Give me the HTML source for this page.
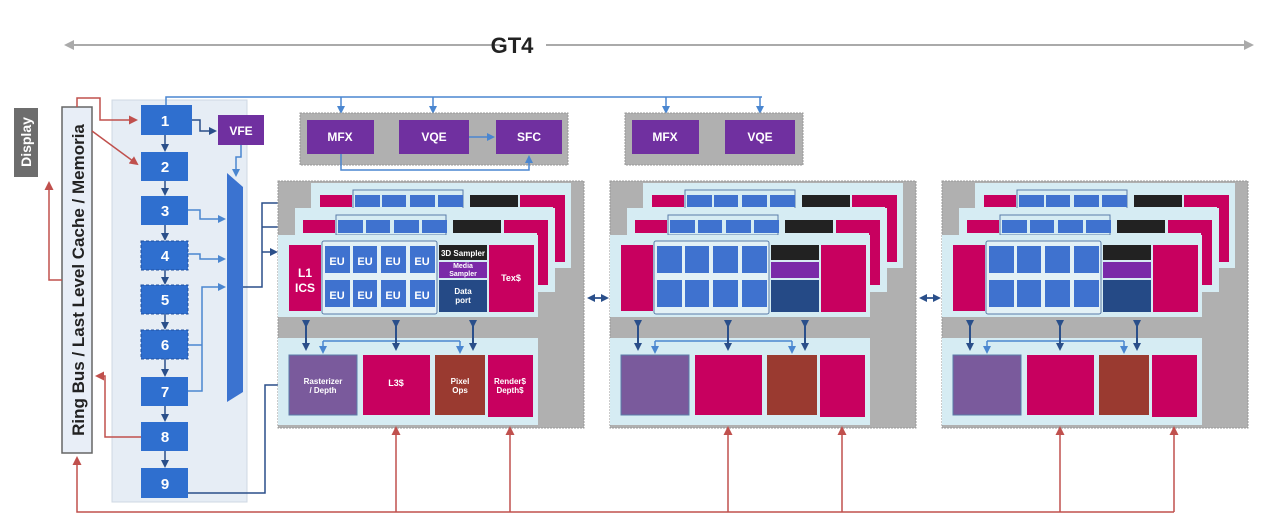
<!DOCTYPE html>
<html><head><meta charset="utf-8"><style>
html,body{margin:0;padding:0;background:#fff;}
svg{display:block;font-family:"Liberation Sans",sans-serif;}
</style></head><body>
<svg width="1280" height="530" viewBox="0 0 1280 530" xmlns="http://www.w3.org/2000/svg">
<defs>
<marker id="ab" markerWidth="8" markerHeight="8" refX="6" refY="4" orient="auto" markerUnits="userSpaceOnUse"><path d="M0,0 L8,4 L0,8 z" fill="#2a4f8a"/></marker>
<marker id="al" markerWidth="8" markerHeight="8" refX="6" refY="4" orient="auto" markerUnits="userSpaceOnUse"><path d="M0,0 L8,4 L0,8 z" fill="#4a86d0"/></marker>
<marker id="ar" markerWidth="9" markerHeight="9" refX="7" refY="4.5" orient="auto" markerUnits="userSpaceOnUse"><path d="M0,0 L9,4.5 L0,9 z" fill="#c0504d"/></marker>
<marker id="ag" markerWidth="10" markerHeight="10" refX="8" refY="5" orient="auto" markerUnits="userSpaceOnUse"><path d="M0,0 L10,5 L0,10 z" fill="#aaa"/></marker>
<g id="slice">
  <rect x="278" y="181" width="306" height="247" fill="#b0b0b0" stroke="#999" stroke-dasharray="2,1"/>
  <rect x="311" y="183" width="260" height="85" fill="#d6ecf3"/>
  <rect x="320" y="195" width="32" height="12" fill="#c8005f"/>
  <rect x="353" y="190" width="110" height="20" fill="none" stroke="#5a7ca8"/>
  <rect x="355" y="195" width="25" height="12" fill="#3f72cf"/><rect x="382" y="195" width="24" height="12" fill="#3f72cf"/><rect x="410" y="195" width="25" height="12" fill="#3f72cf"/><rect x="438" y="195" width="25" height="12" fill="#3f72cf"/>
  <rect x="470" y="195" width="48" height="12" fill="#222"/>
  <path d="M520,195 H565 V262 H553 V207 H520 Z" fill="#c8005f"/>
  <rect x="295" y="208" width="260" height="84" fill="#d6ecf3"/>
  <rect x="303" y="220" width="32" height="13" fill="#c8005f"/>
  <rect x="336" y="215" width="110" height="20" fill="none" stroke="#5a7ca8"/>
  <rect x="338" y="220" width="25" height="13" fill="#3f72cf"/><rect x="366" y="220" width="24" height="13" fill="#3f72cf"/><rect x="394" y="220" width="25" height="13" fill="#3f72cf"/><rect x="422" y="220" width="25" height="13" fill="#3f72cf"/>
  <rect x="453" y="220" width="48" height="13" fill="#222"/>
  <path d="M504,220 H548 V285 H537 V233 H504 Z" fill="#c8005f"/>
  <rect x="278" y="235" width="260" height="82" fill="#d6ecf3"/>
  <rect x="289" y="245" width="32" height="66" fill="#c8005f"/>
  <rect x="322" y="241" width="115" height="73" rx="2" fill="#e3f1f6" stroke="#5a7ca8"/>
  <rect x="325" y="246" width="25" height="27" fill="#3f72cf"/><rect x="353" y="246" width="24" height="27" fill="#3f72cf"/><rect x="381" y="246" width="25" height="27" fill="#3f72cf"/><rect x="410" y="246" width="25" height="27" fill="#3f72cf"/>
  <rect x="325" y="280" width="25" height="27" fill="#3f72cf"/><rect x="353" y="280" width="24" height="27" fill="#3f72cf"/><rect x="381" y="280" width="25" height="27" fill="#3f72cf"/><rect x="410" y="280" width="25" height="27" fill="#3f72cf"/>
  <rect x="439" y="245" width="48" height="15" fill="#222"/>
  <rect x="439" y="262" width="48" height="16" fill="#7a2aa8"/>
  <rect x="439" y="280" width="48" height="32" fill="#254a86"/>
  <rect x="489" y="245" width="45" height="67" fill="#c8005f"/>
  <rect x="278" y="338" width="260" height="87" fill="#d6ecf3"/>
  <rect x="289" y="355" width="68" height="60" fill="#7a5a9c" stroke="#5a7ca8"/>
  <rect x="363" y="355" width="67" height="60" fill="#c8005f"/>
  <rect x="435" y="355" width="50" height="60" fill="#9a3a30"/>
  <rect x="488" y="355" width="45" height="62" fill="#c8005f"/>
  <path d="M323,341 H460" stroke="#4a86d0" stroke-width="1.5" fill="none"/>
  <line x1="323" y1="341" x2="323" y2="352" stroke="#4a86d0" stroke-width="1.5" marker-end="url(#al)"/>
  <line x1="460" y1="341" x2="460" y2="352" stroke="#4a86d0" stroke-width="1.5" marker-end="url(#al)"/>
  <line x1="306" y1="326" x2="306" y2="349" stroke="#2a4f8a" stroke-width="2" marker-start="url(#ab)" marker-end="url(#ab)"/>
  <line x1="396" y1="326" x2="396" y2="349" stroke="#2a4f8a" stroke-width="2" marker-start="url(#ab)" marker-end="url(#ab)"/>
  <line x1="473" y1="326" x2="473" y2="349" stroke="#2a4f8a" stroke-width="2" marker-start="url(#ab)" marker-end="url(#ab)"/>
  <line x1="396" y1="512" x2="396" y2="428" stroke="#c0504d" stroke-width="1.5" marker-end="url(#ar)"/>
  <line x1="510" y1="512" x2="510" y2="428" stroke="#c0504d" stroke-width="1.5" marker-end="url(#ar)"/>
</g>
</defs>

<line x1="500" y1="45" x2="66" y2="45" stroke="#aaa" stroke-width="2" marker-end="url(#ag)"/>
<line x1="546" y1="45" x2="1252" y2="45" stroke="#aaa" stroke-width="2" marker-end="url(#ag)"/>
<text x="512" y="53" font-size="22" font-weight="bold" text-anchor="middle" fill="#222">GT4</text>

<rect x="14" y="108" width="24" height="69" fill="#6d6d6d"/>
<text transform="translate(31,142) rotate(-90)" font-size="14" font-weight="bold" fill="#fff" text-anchor="middle">Display</text>
<rect x="112" y="100" width="135" height="402" fill="#e6edf5" stroke="#cfd8e3"/>
<rect x="62" y="107" width="30" height="346" fill="#e8eef7" stroke="#666" stroke-width="1.5"/>
<text transform="translate(84,280) rotate(-90)" font-size="17" font-weight="bold" fill="#222" text-anchor="middle">Ring Bus / Last Level Cache / Memoria</text>

<path d="M62,280 H49 V183" stroke="#c0504d" stroke-width="1.5" fill="none" marker-end="url(#ar)"/>
<path d="M77,107 V98 H100 V120 H136" stroke="#c0504d" stroke-width="1.5" fill="none" marker-end="url(#ar)"/>
<line x1="92" y1="131" x2="137" y2="164" stroke="#c0504d" stroke-width="1.5" marker-end="url(#ar)"/>
<path d="M141,437 H105 V376 H97" stroke="#c0504d" stroke-width="1.5" fill="none" marker-end="url(#ar)"/>
<path d="M1174,512 H77 V458" stroke="#c0504d" stroke-width="1.5" fill="none" marker-end="url(#ar)"/>

<path d="M166,105 V97 H762" stroke="#4a86d0" stroke-width="1.5" fill="none"/>
<line x1="341" y1="97" x2="341" y2="112" stroke="#4a86d0" stroke-width="1.5" marker-end="url(#al)"/>
<line x1="433" y1="97" x2="433" y2="112" stroke="#4a86d0" stroke-width="1.5" marker-end="url(#al)"/>
<line x1="666" y1="97" x2="666" y2="112" stroke="#4a86d0" stroke-width="1.5" marker-end="url(#al)"/>
<line x1="760" y1="97" x2="760" y2="112" stroke="#4a86d0" stroke-width="1.5" marker-end="url(#al)"/>

<g fill="#2f6fcf">
<rect x="141" y="105" width="51" height="30"/>
<rect x="141" y="152" width="47" height="29"/>
<rect x="141" y="196" width="47" height="29"/>
<rect x="141" y="241" width="47" height="29" stroke="#1f4f9f" stroke-dasharray="3,2"/>
<rect x="141" y="285" width="47" height="29" stroke="#1f4f9f" stroke-dasharray="3,2"/>
<rect x="141" y="330" width="47" height="29" stroke="#1f4f9f" stroke-dasharray="3,2"/>
<rect x="141" y="377" width="47" height="29"/>
<rect x="141" y="422" width="47" height="29"/>
<rect x="141" y="468" width="47" height="30"/>
</g>
<g font-size="15" font-weight="bold" fill="#fff" text-anchor="middle">
<text x="165" y="126">1</text><text x="165" y="172">2</text><text x="165" y="216">3</text><text x="165" y="261">4</text><text x="165" y="305">5</text><text x="165" y="350">6</text><text x="165" y="397">7</text><text x="165" y="442">8</text><text x="165" y="489">9</text>
</g>
<g stroke="#2a4f8a" stroke-width="1.5">
<line x1="165" y1="135" x2="165" y2="150" marker-end="url(#ab)"/>
<line x1="165" y1="181" x2="165" y2="194" marker-end="url(#ab)"/>
<line x1="165" y1="225" x2="165" y2="239" marker-end="url(#ab)"/>
<line x1="165" y1="270" x2="165" y2="283" marker-end="url(#ab)"/>
<line x1="165" y1="314" x2="165" y2="328" marker-end="url(#ab)"/>
<line x1="165" y1="359" x2="165" y2="375" marker-end="url(#ab)"/>
<line x1="165" y1="406" x2="165" y2="420" marker-end="url(#ab)"/>
<line x1="165" y1="451" x2="165" y2="466" marker-end="url(#ab)"/>
</g>
<rect x="218" y="115" width="46" height="30" fill="#7030a0"/>
<text x="241" y="135" font-size="12" font-weight="bold" fill="#fff" text-anchor="middle">VFE</text>
<path d="M192,120 H200 V131 H215" stroke="#2a4f8a" stroke-width="1.5" fill="none" marker-end="url(#ab)"/>
<path d="M241,145 V157 H236 V175" stroke="#4a86d0" stroke-width="1.5" fill="none" marker-end="url(#al)"/>
<polygon points="227,173 243,187 243,392 227,402" fill="#3b73d0"/>
<g stroke="#4a86d0" stroke-width="1.5" fill="none">
<path d="M188,210 H200 V219 H224" marker-end="url(#al)"/>
<path d="M188,254 H200 V259 H224" marker-end="url(#al)"/>
<path d="M188,391 H202 V287 H224" marker-end="url(#al)"/>
<path d="M188,345 H202"/>
</g>
<g stroke="#2a4f8a" stroke-width="1.5" fill="none">
<path d="M243,287 H262 V203 H305" marker-end="url(#ab)"/>
<path d="M262,227 H288" marker-end="url(#ab)"/>
<path d="M262,252 H276" marker-end="url(#ab)"/>
<path d="M188,493 H265 V385 H285" marker-end="url(#ab)"/>
<path d="M607,298 H589" marker-end="url(#ab)"/><path d="M589,298 H607" marker-end="url(#ab)"/>
<path d="M939,298 H921" marker-end="url(#ab)"/><path d="M921,298 H939" marker-end="url(#ab)"/>
</g>

<rect x="300" y="113" width="268" height="52" fill="#b0b0b0" stroke="#999" stroke-dasharray="2,1"/>
<rect x="307" y="120" width="67" height="34" fill="#7030a0"/>
<rect x="399" y="120" width="70" height="34" fill="#7030a0"/>
<rect x="496" y="120" width="66" height="34" fill="#7030a0"/>
<rect x="625" y="113" width="178" height="52" fill="#b0b0b0" stroke="#999" stroke-dasharray="2,1"/>
<rect x="632" y="120" width="67" height="34" fill="#7030a0"/>
<rect x="725" y="120" width="70" height="34" fill="#7030a0"/>
<g font-size="12" font-weight="bold" fill="#fff" text-anchor="middle">
<text x="340" y="141">MFX</text><text x="434" y="141">VQE</text><text x="529" y="141">SFC</text>
<text x="665" y="141">MFX</text><text x="760" y="141">VQE</text>
</g>
<line x1="469" y1="137" x2="493" y2="137" stroke="#4a86d0" stroke-width="1.5" marker-end="url(#al)"/>
<path d="M341,154 V170 H529 V157" stroke="#4a86d0" stroke-width="1.5" fill="none" marker-end="url(#al)"/>

<use href="#slice"/>
<use href="#slice" transform="translate(332,0)"/>
<use href="#slice" transform="translate(664,0)"/>

<g fill="#fff" font-weight="bold" text-anchor="middle">
<text x="305" y="277" font-size="12">L1</text><text x="305" y="292" font-size="12">ICS</text>
<g font-size="11">
<text x="337" y="265">EU</text><text x="365" y="265">EU</text><text x="393" y="265">EU</text><text x="422" y="265">EU</text>
<text x="337" y="299">EU</text><text x="365" y="299">EU</text><text x="393" y="299">EU</text><text x="422" y="299">EU</text>
</g>
<text x="463" y="256" font-size="8">3D Sampler</text>
<text x="463" y="268" font-size="7">Media</text><text x="463" y="276" font-size="7">Sampler</text>
<text x="463" y="294" font-size="8">Data</text><text x="463" y="303" font-size="8">port</text>
<text x="511" y="281" font-size="9">Tex$</text>
<text x="323" y="384" font-size="8">Rasterizer</text><text x="323" y="393" font-size="8">/ Depth</text>
<text x="396" y="386" font-size="9">L3$</text>
<text x="460" y="384" font-size="8">Pixel</text><text x="460" y="393" font-size="8">Ops</text>
<text x="510" y="384" font-size="8">Render$</text><text x="510" y="393" font-size="8">Depth$</text>
</g>
</svg>
</body></html>
